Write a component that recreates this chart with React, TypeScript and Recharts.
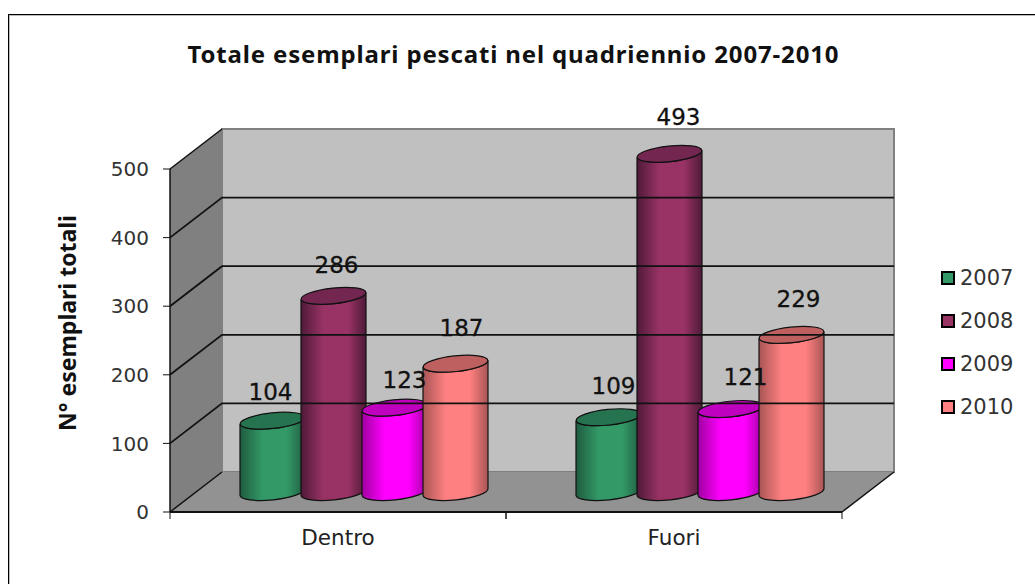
import { Bar, BarChart, ReferenceArea, ReferenceDot, ReferenceLine, XAxis, YAxis } from 'recharts';

const categories = ['Dentro', 'Fuori'];
const years = ['2007', '2008', '2009', '2010'];
const values2007 = [104, 109];
const values2008 = [286, 493];
const values2009 = [123, 121];
const values2010 = [187, 229];
const yTicks = [0, 100, 200, 300, 400, 500];

const tableData = categories.map((name, i) => ({
  name,
  '2007': values2007[i],
  '2008': values2008[i],
  '2009': values2009[i],
  '2010': values2010[i],
}));

const colors: Record<string, { base: string; top: string; edge: string }> = {
  '2007': { base: '#339966', top: '#267350', edge: '#1f5c40' },
  '2008': { base: '#993366', top: '#732650', edge: '#4f1a38' },
  '2009': { base: '#FF00FF', top: '#BF00BF', edge: '#a000a0' },
  '2010': { base: '#FF8080', top: '#BF6060', edge: '#a85555' },
};

// 3D look: depth of the box, bars sit halfway in
const DEPTH_X = 52;
const DEPTH_Y = 40;
const BAR_DX = 26;
const BAR_DY = 20;
const BAR_SIZE = 65;
const BAR_GAP = -4;
const RY = 7.8;
const TILT = 3.4;
const TILT_DEG = -6;

// data labels are hand placed in the source, dx/dy from the top of each bar
const labelNudge: Record<string, [number, number][]> = {
  '2007': [[-2, -21], [5, -23]],
  '2008': [[3, -23], [9, -29]],
  '2009': [[10, -20], [15, -24]],
  '2010': [[6, -28], [7, -28]],
};

const WIDTH = 1035;
const HEIGHT = 584;
const PLOT_LEFT = 170;
const PLOT_RIGHT = 842;
const BAND = (PLOT_RIGHT - PLOT_LEFT) / categories.length;
const sans = '"DejaVu Sans", sans-serif';

const Cylinder = (props: any) => {
  const { x, y, width, height, year } = props;
  const left = x + BAR_DX;
  const right = left + width;
  const rx = width / 2;
  const top = y - BAR_DY;
  const bottom = y + height - BAR_DY;
  const outline = '#111';
  return (
    <g>
      <path
        d={`M${left},${top + TILT} L${left},${bottom + TILT} A${rx},${RY} ${TILT_DEG} 0 0 ${right},${bottom - TILT} L${right},${top - TILT} A${rx},${RY} ${TILT_DEG} 0 1 ${left},${top + TILT} Z`}
        fill={`url(#cyl-${year})`}
        stroke={outline}
        strokeWidth={1.2}
      />
      <ellipse
        cx={left + rx}
        cy={top}
        rx={rx}
        ry={RY}
        fill={colors[year].top}
        stroke={outline}
        strokeWidth={1.2}
        transform={`rotate(${TILT_DEG} ${left + rx} ${top})`}
      />
    </g>
  );
};

// labels go on top of all the cylinders, so they are drawn after the bars
const ValueLabel = (props: any) => {
  const { cx, cy, seriesIndex, catIndex, text } = props;
  const [dx, dy] = labelNudge[years[seriesIndex]][catIndex];
  const slot = (seriesIndex - (years.length - 1) / 2) * (BAR_SIZE + BAR_GAP);
  return (
    <text
      x={cx + BAR_DX + slot + dx}
      y={cy - BAR_DY + dy}
      textAnchor="middle"
      fontFamily={sans}
      fontSize={23}
      fill="#111"
      stroke="#111"
      strokeWidth={0.3}
    >
      {text}
    </text>
  );
};

const Walls = (props: any) => {
  const { x, y, width, height } = props;
  const bottom = y + height;
  const right = x + width;
  return (
    <g>
      <polygon
        points={`${x},${y} ${x + DEPTH_X},${y - DEPTH_Y} ${x + DEPTH_X},${bottom - DEPTH_Y} ${x},${bottom}`}
        fill="#808080"
      />
      <rect
        x={x + DEPTH_X}
        y={y - DEPTH_Y}
        width={width}
        height={height}
        fill="#C0C0C0"
        stroke="#808080"
        strokeWidth={2}
      />
      <polygon
        points={`${x},${bottom} ${x + DEPTH_X},${bottom - DEPTH_Y} ${right + DEPTH_X},${bottom - DEPTH_Y} ${right},${bottom}`}
        fill="#929292"
      />
      <line x1={x} y1={y} x2={x + DEPTH_X} y2={y - DEPTH_Y} stroke="#111" strokeWidth={1.5} />
      <line x1={x} y1={bottom} x2={x + DEPTH_X} y2={bottom - DEPTH_Y} stroke="#111" strokeWidth={1.5} />
      <line x1={right} y1={bottom} x2={right + DEPTH_X} y2={bottom - DEPTH_Y} stroke="#111" strokeWidth={1.5} />
    </g>
  );
};

const GridRun = (props: any) => {
  const { x1, y1, x2 } = props;
  return (
    <polyline
      points={`${x1},${y1} ${x1 + DEPTH_X},${y1 - DEPTH_Y} ${x2 + DEPTH_X},${y1 - DEPTH_Y}`}
      fill="none"
      stroke="#111"
      strokeWidth={1.8}
    />
  );
};

const CategoryTick = (props: any) => {
  const { x, payload } = props;
  const axisY = HEIGHT - 72;
  return (
    <g>
      <line x1={x - BAND / 2} y1={axisY} x2={x - BAND / 2} y2={axisY + 7} stroke="#111" />
      <line x1={x + BAND / 2} y1={axisY} x2={x + BAND / 2} y2={axisY + 7} stroke="#111" />
      <text x={x} y={axisY + 33} textAnchor="middle" fontFamily={sans} fontSize={21.5} fill="#222">
        {payload.value}
      </text>
    </g>
  );
};

export default function App() {
  return (
    <div style={{ position: 'absolute', left: 0, top: 0, width: WIDTH, height: HEIGHT }}>
      <BarChart
        width={WIDTH}
        height={HEIGHT}
        data={tableData}
        margin={{ top: 169, right: WIDTH - PLOT_RIGHT, bottom: 42, left: 0 }}
        barSize={BAR_SIZE}
        barGap={BAR_GAP}
      >
        <defs>
          {years.map((year) => (
            <linearGradient key={year} id={`cyl-${year}`} x1="0" x2="1" y1="0" y2="0">
              <stop offset="0%" stopColor={colors[year].edge} />
              <stop offset="35%" stopColor={colors[year].base} />
              <stop offset="72%" stopColor={colors[year].base} />
              <stop offset="100%" stopColor={colors[year].edge} />
            </linearGradient>
          ))}
        </defs>
        <rect x={9.5} y={15.5} width={WIDTH + 20} height={HEIGHT + 20} fill="#fff" stroke="#bbb" />
        <rect x={8.5} y={14.5} width={WIDTH + 20} height={HEIGHT + 20} fill="none" stroke="#000" />
        <text
          x={513}
          y={63}
          textAnchor="middle"
          fontFamily='"Noto Sans", sans-serif'
          fontWeight="bold"
          fontSize={24}
          fill="#111"
          textLength={651}
        >
          Totale esemplari pescati nel quadriennio 2007-2010
        </text>
        <text
          x={0}
          y={0}
          transform="translate(76 323) rotate(-90)"
          textAnchor="middle"
          fontFamily='"Noto Sans", sans-serif'
          fontWeight="bold"
          fontSize={23}
          fill="#111"
        >
          N° esemplari totali
        </text>
        <ReferenceArea y1={0} y2={500} shape={<Walls />} ifOverflow="visible" />
        {yTicks.slice(1, -1).map((t) => (
          <ReferenceLine key={t} y={t} shape={<GridRun />} ifOverflow="visible" />
        ))}
        <XAxis
          dataKey="name"
          tick={<CategoryTick />}
          tickLine={false}
          axisLine={{ stroke: '#111', strokeWidth: 2 }}
        />
        <YAxis
          width={PLOT_LEFT}
          domain={[0, 500]}
          ticks={yTicks}
          tick={{ fontFamily: sans, fontSize: 20, fill: '#333' }}
          tickSize={7}
          tickMargin={14}
          tickLine={{ stroke: '#111' }}
          axisLine={{ stroke: '#111', strokeWidth: 1.5 }}
        />
        {years.map((year) => (
          <Bar
            key={year}
            dataKey={year}
            isAnimationActive={false}
            shape={<Cylinder year={year} />}
          />
        ))}
        {years.flatMap((year, s) =>
          tableData.map((row: any, c) => (
            <ReferenceDot
              key={`${year}-${row.name}`}
              x={row.name}
              y={row[year]}
              ifOverflow="visible"
              shape={<ValueLabel seriesIndex={s} catIndex={c} text={row[year]} />}
            />
          )),
        )}
        {years.map((year, i) => (
          <g key={year}>
            <rect
              x={942}
              y={272 + i * 43}
              width={12}
              height={12}
              fill={colors[year].base}
              stroke="#000"
              strokeWidth={2}
            />
            <text x={960} y={285 + i * 43} fontFamily={sans} fontSize={21} fill="#333">
              {year}
            </text>
          </g>
        ))}
      </BarChart>
    </div>
  );
}
